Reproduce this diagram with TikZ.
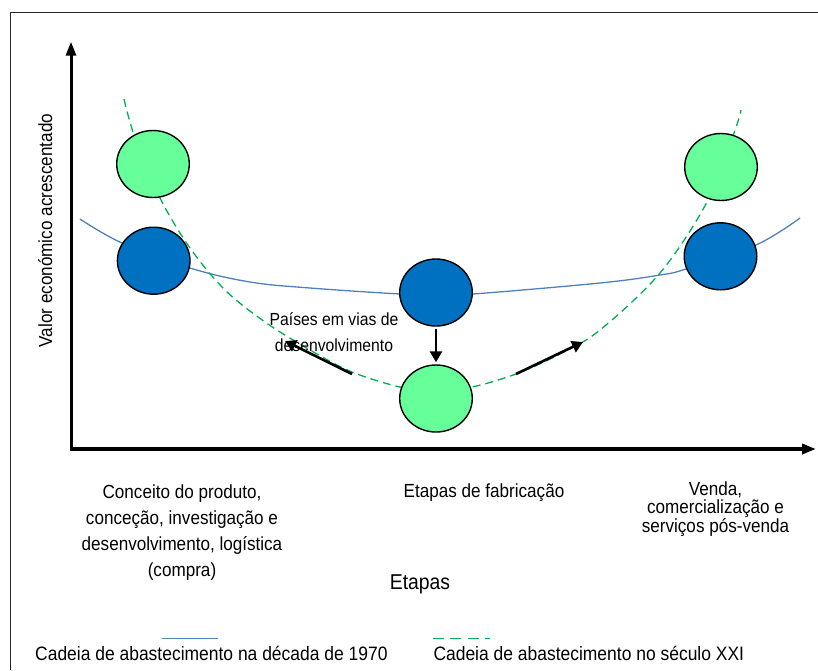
\documentclass[tikz,border=0pt]{standalone}
\usepackage{fontspec}
\setmainfont{Liberation Sans}[FakeStretch=0.9]
\usetikzlibrary{shapes.geometric,arrows.meta}

\definecolor{cgreen}{HTML}{00B050}
\definecolor{cblue}{HTML}{4F81BD}
\definecolor{fgreen}{HTML}{66FF99}
\definecolor{fblue}{HTML}{0070C0}

\begin{document}
\begin{tikzpicture}[x=1pt,y=-1pt,
  bubble/.style={ellipse, draw=black, line width=1.4pt, minimum width=72.6pt, minimum height=67pt, inner sep=0pt},
  gb/.style={bubble, fill=fgreen},
  bb/.style={bubble, fill=fblue},
  axisline/.style={line width=3.4pt, -{Triangle[length=14pt,width=10pt]}},
  arr/.style={line width=2.6pt, -{Triangle[length=11pt,width=12pt]}},
  curveA/.style={cgreen, line width=1.3pt, dash pattern=on 8pt off 5pt},
  curveB/.style={cblue, line width=1.3pt},
  lbl/.style={font=\fontsize{19}{26.3}\selectfont, align=center, inner sep=0pt, anchor=base},
  lgd/.style={font=\fontsize{19.4}{22}\selectfont, inner sep=0pt, anchor=base west},
]
\useasboundingbox (0,0) rectangle (818,670);

% frame
\draw[line width=1.5pt, black!85] (818,12.7) -- (10.7,12.7) -- (10.7,670);

% axes
\coordinate (O) at (71,451);
\coordinate (Ytop) at (71,41.7);
\coordinate (X0) at (69.5,449);
\coordinate (Xend) at (816,449);
\draw[axisline, line width=3pt] (O) -- (Ytop);
\draw[axisline, line width=4pt] (X0) -- (Xend);

% curves
\draw[curveB] plot[smooth, tension=0.6] coordinates {(80,219) (122,243) (190,268) (250,282) (310,288) (400,294) (436,295) (473,294) (600,283) (660,275) (686,269) (756,245) (800,218)};
\draw[curveA] plot[smooth, tension=0.55] coordinates {(124,99) (135,138) (160,198) (190,248) (225,290) (265,322) (310,350) (352,372) (400,387) (436,391) (472,387) (516,374) (560,354) (600,330) (660,273) (707,202) (734,133) (741,110)};

% bubbles
\node[gb] (LG) at (153,164) {};
\node[bb] (LB) at (153.7,260.7) {};
\node[bb] (MB) at (436,292.5) {};
\node[gb] (MG) at (436,398.5) {};
\node[gb] (RG) at (721,167) {};
\node[bb] (RB) at (720.5,256.3) {};

% arrows
\draw[arr, shorten <=2pt, shorten >=2pt] (MB) -- (MG);
\coordinate (la0) at (352,374);
\coordinate (la1) at (285,341);
\coordinate (ra0) at (516,374);
\coordinate (ra1) at (583,342);
\draw[arr] (la0) -- (la1);
\draw[arr] (ra0) -- (ra1);

% labels (base anchor = baseline of the last line)
\node[lbl, font=\fontsize{17.5}{25.3}\selectfont] (pais) at (334,351) {Países em vias de\\desenvolvimento};
\node[lbl] (c1) at (182,576.9) {Conceito do produto,\\conceção, investigação e\\desenvolvimento, logística\\(compra)};
\node[lbl] (c2) at (484,497) {Etapas de fabricação};
\node[lbl, font=\fontsize{19}{18}\selectfont] (c3) at (715.5,532.7) {Venda,\\comercialização e\\serviços pós-venda};
\node[lbl, font=\fontsize{21.5}{24}\selectfont] (et) at (420,589) {Etapas};
\node[lbl, rotate=90] (yl) at (52,230.5) {Valor económico acrescentado};

% legend
\coordinate (l1a) at (162,638.7);
\coordinate (l1b) at (218,638.7);
\coordinate (l2a) at (433,638.7);
\coordinate (l2b) at (490,638.7);
\draw[curveB] (l1a) -- (l1b);
\draw[cgreen, line width=1.3pt, dash pattern=on 10.7pt off 6.7pt] (l2a) -- (l2b);
\node[lgd] (t1) at (35,660.7) {Cadeia de abastecimento na década de 1970};
\node[lgd] (t2) at (433.3,660.7) {Cadeia de abastecimento no século XXI};
\end{tikzpicture}
\end{document}
